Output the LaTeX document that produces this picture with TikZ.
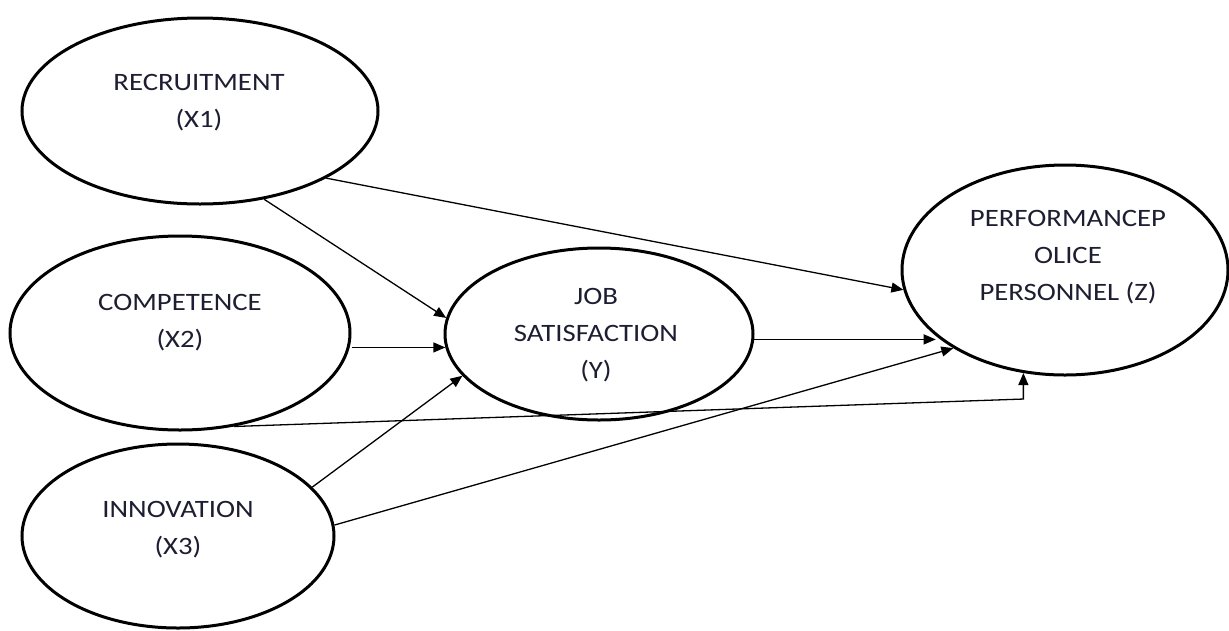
\documentclass[tikz,border=0pt]{standalone}
\usepackage{fontspec}
\setmainfont{Carlito}[FakeStretch=1.15]
\usetikzlibrary{shapes.geometric,arrows.meta}
\definecolor{txt}{RGB}{30,30,50}
\tikzset{
  var/.style={ellipse,draw=black,line width=3pt,inner sep=0pt},
  lbl/.style={align=center,text=txt,font=\fontsize{25}{37}\selectfont,inner sep=0pt},
  link/.style={line width=1.3pt,-{Triangle[length=12pt,width=10pt]}}
}
\begin{document}
\begin{tikzpicture}[x=1pt,y=-1pt]
\useasboundingbox[fill=white] (0,0) rectangle (1229,630);
\node[var,minimum width=356pt,minimum height=186pt] (R) at (200,111) {};
\node[var,minimum width=340pt,minimum height=194pt] (C) at (180,333) {};
\node[var,minimum width=312pt,minimum height=184pt] (I) at (178,536) {};
\node[var,minimum width=308pt,minimum height=172pt] (J) at (599,334) {};
\node[var,minimum width=326pt,minimum height=210pt] (P) at (1065,270) {};
\node[lbl] (Rt) at (199,103) {RECRUITMENT\\(X1)};
\node[lbl] (Ct) at (180,323) {COMPETENCE\\(X2)};
\node[lbl] (It) at (178,530) {INNOVATION\\(X3)};
\node[lbl] (Jt) at (596,335) {JOB\\SATISFACTION\\(Y)};
\node[lbl] (Pt) at (1068,257) {PERFORMANCEP\\OLICE\\PERSONNEL (Z)};
\draw[link] (R.-54.8) -- (J.174.8);
\draw[link] (R.-28.5) -- (P.-173.4);
\draw[link] (C.east |- J.185) -- (J.185);
\draw[link] (C.-60.6) -- ([yshift=-26pt]P.248) -- (P.248);
\draw[link] (I.20) -- (J.197.5);
\draw[link] (I.4.8) -- (P.215.3);
\draw[link] (J.-2) -- (J.-2 -| P.207);
\end{tikzpicture}
\end{document}
